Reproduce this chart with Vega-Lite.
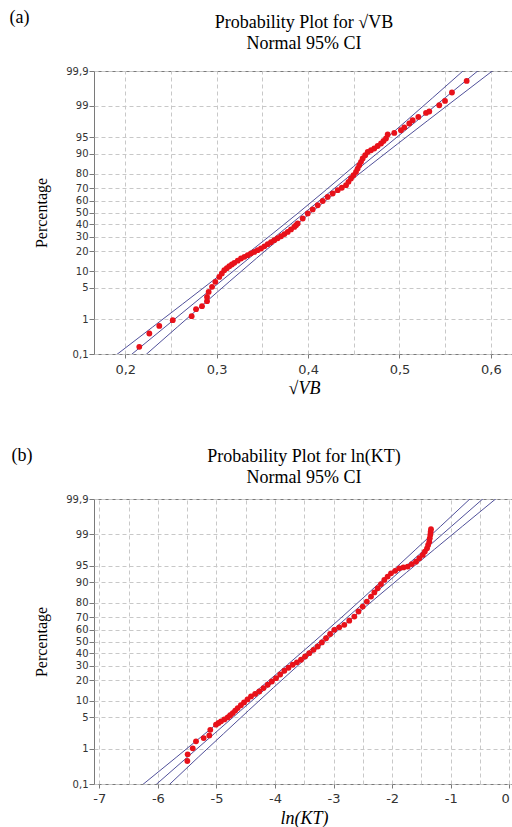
{
  "$schema": "https://vega.github.io/schema/vega-lite/v6.json",
  "padding": {"left": 8, "top": 7, "right": 0, "bottom": 0},
  "spacing": 47,
  "config": {
    "view": {"stroke": "#7a7a7a", "strokeWidth": 1},
    "axis": {"domain": false, "tickColor": "#7a7a7a", "labelColor": "#333333", "labelFont": "DejaVu Sans", "gridColor": "#c8c8c8", "gridDash": [4, 3], "gridWidth": 1, "titleFont": "Liberation Serif", "titleFontWeight": "normal", "titleColor": "#000000"}
  },
  "datasets": {
    "ciA": [
      {"line": "lo", "z": -3.1, "v": 0.1908}, {"line": "lo", "z": -2.5, "v": 0.2300}, {"line": "lo", "z": -2, "v": 0.2626}, {"line": "lo", "z": -1.5, "v": 0.2950}, {"line": "lo", "z": -1, "v": 0.3271}, {"line": "lo", "z": -0.5, "v": 0.3588}, {"line": "lo", "z": 0, "v": 0.3898}, {"line": "lo", "z": 0.5, "v": 0.4200}, {"line": "lo", "z": 1, "v": 0.4495}, {"line": "lo", "z": 1.5, "v": 0.4786}, {"line": "lo", "z": 2, "v": 0.5074}, {"line": "lo", "z": 2.5, "v": 0.5360}, {"line": "lo", "z": 3.1, "v": 0.5700},
      {"line": "fit", "z": -3.1, "v": 0.2068}, {"line": "fit", "z": -2.5, "v": 0.2435}, {"line": "fit", "z": -2, "v": 0.2741}, {"line": "fit", "z": -1.5, "v": 0.3047}, {"line": "fit", "z": -1, "v": 0.3353}, {"line": "fit", "z": -0.5, "v": 0.3659}, {"line": "fit", "z": 0, "v": 0.3965}, {"line": "fit", "z": 0.5, "v": 0.4271}, {"line": "fit", "z": 1, "v": 0.4577}, {"line": "fit", "z": 1.5, "v": 0.4883}, {"line": "fit", "z": 2, "v": 0.5189}, {"line": "fit", "z": 2.5, "v": 0.5495}, {"line": "fit", "z": 3.1, "v": 0.5862},
      {"line": "hi", "z": -3.1, "v": 0.2228}, {"line": "hi", "z": -2.5, "v": 0.2570}, {"line": "hi", "z": -2, "v": 0.2856}, {"line": "hi", "z": -1.5, "v": 0.3144}, {"line": "hi", "z": -1, "v": 0.3435}, {"line": "hi", "z": -0.5, "v": 0.3730}, {"line": "hi", "z": 0, "v": 0.4032}, {"line": "hi", "z": 0.5, "v": 0.4342}, {"line": "hi", "z": 1, "v": 0.4659}, {"line": "hi", "z": 1.5, "v": 0.4980}, {"line": "hi", "z": 2, "v": 0.5304}, {"line": "hi", "z": 2.5, "v": 0.5630}, {"line": "hi", "z": 3.1, "v": 0.6022}
    ],
    "ptsA": [
      {"v": 0.2153, "z": -2.934}, {"v": 0.2263, "z": -2.642}, {"v": 0.2372, "z": -2.476}, {"v": 0.2519, "z": -2.352}, {"v": 0.2726, "z": -2.264}, {"v": 0.2774, "z": -2.111}, {"v": 0.2839, "z": -2.046}, {"v": 0.2894, "z": -1.937}, {"v": 0.2894, "z": -1.843}, {"v": 0.2912, "z": -1.734}, {"v": 0.2949, "z": -1.624}, {"v": 0.2985, "z": -1.515}, {"v": 0.3028, "z": -1.406}, {"v": 0.3056, "z": -1.333}, {"v": 0.3083, "z": -1.260}, {"v": 0.3111, "z": -1.216}, {"v": 0.3138, "z": -1.172}, {"v": 0.3166, "z": -1.136}, {"v": 0.3193, "z": -1.100}, {"v": 0.3230, "z": -1.052}, {"v": 0.3266, "z": -1.004}, {"v": 0.3303, "z": -0.968}, {"v": 0.3339, "z": -0.932}, {"v": 0.3375, "z": -0.896}, {"v": 0.3411, "z": -0.860}, {"v": 0.3448, "z": -0.823}, {"v": 0.3485, "z": -0.786}, {"v": 0.3522, "z": -0.739}, {"v": 0.3558, "z": -0.692}, {"v": 0.3594, "z": -0.649}, {"v": 0.3630, "z": -0.605}, {"v": 0.3667, "z": -0.562}, {"v": 0.3704, "z": -0.518}, {"v": 0.3741, "z": -0.471}, {"v": 0.3777, "z": -0.424}, {"v": 0.3813, "z": -0.369}, {"v": 0.3849, "z": -0.314}, {"v": 0.3868, "z": -0.277}, {"v": 0.3886, "z": -0.240}, {"v": 0.3941, "z": -0.131}, {"v": 0.3996, "z": -0.022}, {"v": 0.4050, "z": 0.068}, {"v": 0.4105, "z": 0.159}, {"v": 0.4160, "z": 0.251}, {"v": 0.4214, "z": 0.341}, {"v": 0.4269, "z": 0.415}, {"v": 0.4324, "z": 0.487}, {"v": 0.4369, "z": 0.541}, {"v": 0.4415, "z": 0.596}, {"v": 0.4442, "z": 0.669}, {"v": 0.4469, "z": 0.742}, {"v": 0.4497, "z": 0.814}, {"v": 0.4524, "z": 0.886}, {"v": 0.4542, "z": 0.960}, {"v": 0.4560, "z": 1.033}, {"v": 0.4579, "z": 1.106}, {"v": 0.4597, "z": 1.179}, {"v": 0.4625, "z": 1.251}, {"v": 0.4652, "z": 1.323}, {"v": 0.4688, "z": 1.360}, {"v": 0.4724, "z": 1.397}, {"v": 0.4761, "z": 1.452}, {"v": 0.4798, "z": 1.507}, {"v": 0.4825, "z": 1.562}, {"v": 0.4852, "z": 1.616}, {"v": 0.4871, "z": 1.703}, {"v": 0.4943, "z": 1.738}, {"v": 0.5016, "z": 1.797}, {"v": 0.5053, "z": 1.856}, {"v": 0.5107, "z": 1.943}, {"v": 0.5144, "z": 2.015}, {"v": 0.5206, "z": 2.087}, {"v": 0.5290, "z": 2.175}, {"v": 0.5326, "z": 2.205}, {"v": 0.5435, "z": 2.343}, {"v": 0.5498, "z": 2.437}, {"v": 0.5574, "z": 2.620}, {"v": 0.5735, "z": 2.873}
    ],
    "ciB": [
      {"line": "lo", "z": -3.1, "v": -6.256}, {"line": "lo", "z": -2.5, "v": -5.675}, {"line": "lo", "z": -2, "v": -5.197}, {"line": "lo", "z": -1.5, "v": -4.722}, {"line": "lo", "z": -1, "v": -4.250}, {"line": "lo", "z": -0.5, "v": -3.784}, {"line": "lo", "z": 0, "v": -3.329}, {"line": "lo", "z": 0.5, "v": -2.884}, {"line": "lo", "z": 1, "v": -2.448}, {"line": "lo", "z": 1.5, "v": -2.020}, {"line": "lo", "z": 2, "v": -1.595}, {"line": "lo", "z": 2.5, "v": -1.171}, {"line": "lo", "z": 3.1, "v": -0.665},
      {"line": "fit", "z": -3.1, "v": -6.029}, {"line": "fit", "z": -2.5, "v": -5.489}, {"line": "fit", "z": -2, "v": -5.038}, {"line": "fit", "z": -1.5, "v": -4.588}, {"line": "fit", "z": -1, "v": -4.138}, {"line": "fit", "z": -0.5, "v": -3.687}, {"line": "fit", "z": 0, "v": -3.237}, {"line": "fit", "z": 0.5, "v": -2.787}, {"line": "fit", "z": 1, "v": -2.336}, {"line": "fit", "z": 1.5, "v": -1.886}, {"line": "fit", "z": 2, "v": -1.436}, {"line": "fit", "z": 2.5, "v": -0.985}, {"line": "fit", "z": 3.1, "v": -0.445},
      {"line": "hi", "z": -3.1, "v": -5.802}, {"line": "hi", "z": -2.5, "v": -5.303}, {"line": "hi", "z": -2, "v": -4.879}, {"line": "hi", "z": -1.5, "v": -4.455}, {"line": "hi", "z": -1, "v": -4.026}, {"line": "hi", "z": -0.5, "v": -3.590}, {"line": "hi", "z": 0, "v": -3.145}, {"line": "hi", "z": 0.5, "v": -2.690}, {"line": "hi", "z": 1, "v": -2.224}, {"line": "hi", "z": 1.5, "v": -1.753}, {"line": "hi", "z": 2, "v": -1.277}, {"line": "hi", "z": 2.5, "v": -0.799}, {"line": "hi", "z": 3.1, "v": -0.225}
    ],
    "ptsB": [
      {"v": -5.497, "z": -2.592}, {"v": -5.491, "z": -2.447}, {"v": -5.405, "z": -2.317}, {"v": -5.349, "z": -2.165}, {"v": -5.218, "z": -2.094}, {"v": -5.122, "z": -2.036}, {"v": -5.105, "z": -1.916}, {"v": -5.008, "z": -1.804}, {"v": -4.965, "z": -1.768}, {"v": -4.922, "z": -1.732}, {"v": -4.865, "z": -1.689}, {"v": -4.808, "z": -1.646}, {"v": -4.765, "z": -1.600}, {"v": -4.722, "z": -1.553}, {"v": -4.680, "z": -1.499}, {"v": -4.637, "z": -1.444}, {"v": -4.583, "z": -1.383}, {"v": -4.529, "z": -1.321}, {"v": -4.470, "z": -1.256}, {"v": -4.410, "z": -1.191}, {"v": -4.339, "z": -1.137}, {"v": -4.268, "z": -1.083}, {"v": -4.197, "z": -1.011}, {"v": -4.125, "z": -0.938}, {"v": -4.054, "z": -0.867}, {"v": -3.983, "z": -0.795}, {"v": -3.912, "z": -0.715}, {"v": -3.841, "z": -0.634}, {"v": -3.770, "z": -0.570}, {"v": -3.698, "z": -0.505}, {"v": -3.627, "z": -0.451}, {"v": -3.556, "z": -0.396}, {"v": -3.486, "z": -0.325}, {"v": -3.415, "z": -0.253}, {"v": -3.343, "z": -0.181}, {"v": -3.271, "z": -0.108}, {"v": -3.200, "z": -0.019}, {"v": -3.129, "z": 0.071}, {"v": -3.059, "z": 0.162}, {"v": -2.988, "z": 0.253}, {"v": -2.903, "z": 0.308}, {"v": -2.817, "z": 0.362}, {"v": -2.732, "z": 0.452}, {"v": -2.646, "z": 0.541}, {"v": -2.575, "z": 0.650}, {"v": -2.503, "z": 0.758}, {"v": -2.432, "z": 0.866}, {"v": -2.361, "z": 0.974}, {"v": -2.304, "z": 1.064}, {"v": -2.247, "z": 1.154}, {"v": -2.191, "z": 1.245}, {"v": -2.134, "z": 1.336}, {"v": -2.077, "z": 1.408}, {"v": -2.020, "z": 1.479}, {"v": -1.949, "z": 1.533}, {"v": -1.878, "z": 1.587}, {"v": -1.807, "z": 1.606}, {"v": -1.735, "z": 1.624}, {"v": -1.664, "z": 1.678}, {"v": -1.593, "z": 1.732}, {"v": -1.536, "z": 1.805}, {"v": -1.478, "z": 1.877}, {"v": -1.442, "z": 1.949}, {"v": -1.405, "z": 2.020}, {"v": -1.386, "z": 2.093}, {"v": -1.366, "z": 2.165}, {"v": -1.358, "z": 2.238}, {"v": -1.349, "z": 2.311}, {"v": -1.343, "z": 2.374}, {"v": -1.337, "z": 2.436}
    ]
  },
  "vconcat": [
    {
      "width": 420,
      "height": 283,
      "title": {"text": "Probability Plot for √VB", "subtitle": "Normal 95% CI", "font": "Liberation Serif", "fontSize": 18, "fontWeight": "normal", "color": "#000000", "subtitleFont": "Liberation Serif", "subtitleFontSize": 18, "subtitleColor": "#000000", "subtitlePadding": 3, "anchor": "middle", "frame": "group", "offset": -45},
      "resolve": {"axis": {"x": "independent", "y": "independent"}},
      "layer": [
        {
          "data": {"name": "ciA"},
          "mark": {"type": "line", "color": "#50509a", "strokeWidth": 1, "clip": true},
          "encoding": {
            "x": {"field": "v", "type": "quantitative", "scale": {"domain": [0.16576, 0.62528], "nice": false, "zero": false},
              "axis": {"orient": "bottom", "values": [0.2, 0.3, 0.4, 0.5, 0.6], "grid": false, "tickSize": 4, "labelFontSize": 13, "labelPadding": 5, "labelExpr": "replace(format(datum.value, '.1f'), '.', ',')", "title": "√VB", "titleFontSize": 18, "titleFontStyle": "italic", "titlePadding": 3}},
            "y": {"field": "z", "type": "quantitative", "scale": {"domain": [-3.0902, 3.0902], "nice": false, "zero": false},
              "axis": {"values": [-3.0902, -2.3263, -1.6449, -1.2816, -0.8416, -0.5244, -0.2533, 0, 0.2533, 0.5244, 0.8416, 1.2816, 1.6449, 2.3263, 3.0902], "labelExpr": "replace(toString(round(cumulativeNormal(datum.value) * 1000) / 10), '.', ',')", "grid": true, "tickSize": 5, "labelPadding": 1, "labelFontSize": 10, "title": "Percentage", "titleFontSize": 16, "titlePadding": 16}},
            "detail": {"field": "line"},
            "order": {"field": "z", "type": "quantitative"}
          }
        },
        {
          "data": {"name": "ptsA"},
          "mark": {"type": "circle", "color": "#e8111a", "opacity": 1, "size": 34},
          "encoding": {
            "x": {"field": "v", "type": "quantitative",
              "axis": {"orient": "top", "values": [0.2, 0.25, 0.3, 0.35, 0.4, 0.45, 0.5, 0.55, 0.6], "grid": true, "labels": false, "ticks": false, "title": "(a)", "titleFontSize": 18, "titleAngle": 0, "titleAlign": "left", "titleBaseline": "middle", "titleX": -85, "titleY": -54}},
            "y": {"field": "z", "type": "quantitative", "axis": null}
          }
        }
      ]
    },
    {
      "width": 420,
      "height": 285,
      "title": {"text": "Probability Plot for ln(KT)", "subtitle": "Normal 95% CI", "font": "Liberation Serif", "fontSize": 18, "fontWeight": "normal", "color": "#000000", "subtitleFont": "Liberation Serif", "subtitleFontSize": 18, "subtitleColor": "#000000", "subtitlePadding": 3, "anchor": "middle", "frame": "group", "offset": -41},
      "resolve": {"axis": {"x": "independent", "y": "independent"}},
      "layer": [
        {
          "data": {"name": "ciB"},
          "mark": {"type": "line", "color": "#50509a", "strokeWidth": 1, "clip": true},
          "encoding": {
            "x": {"field": "v", "type": "quantitative", "scale": {"domain": [-7.0905, 0.0804], "nice": false, "zero": false},
              "axis": {"orient": "bottom", "values": [-7, -6, -5, -4, -3, -2, -1, 0], "grid": false, "tickSize": 4, "labelFontSize": 13, "labelPadding": 4, "labelFlush": 5, "labelExpr": "toString(datum.value)", "title": "ln(KT)", "titleFontSize": 18, "titleFontStyle": "italic", "titlePadding": 4}},
            "y": {"field": "z", "type": "quantitative", "scale": {"domain": [-3.0902, 3.0902], "nice": false, "zero": false},
              "axis": {"values": [-3.0902, -2.3263, -1.6449, -1.2816, -0.8416, -0.5244, -0.2533, 0, 0.2533, 0.5244, 0.8416, 1.2816, 1.6449, 2.3263, 3.0902], "labelExpr": "replace(toString(round(cumulativeNormal(datum.value) * 1000) / 10), '.', ',')", "grid": true, "tickSize": 5, "labelPadding": 1, "labelFontSize": 10, "title": "Percentage", "titleFontSize": 16, "titlePadding": 16}},
            "detail": {"field": "line"},
            "order": {"field": "z", "type": "quantitative"}
          }
        },
        {
          "data": {"name": "ptsB"},
          "mark": {"type": "circle", "color": "#e8111a", "opacity": 1, "size": 34},
          "encoding": {
            "x": {"field": "v", "type": "quantitative",
              "axis": {"orient": "top", "values": [-7, -6.5, -6, -5.5, -5, -4.5, -4, -3.5, -3, -2.5, -2, -1.5, -1, -0.5, 0], "grid": true, "labels": false, "ticks": false, "title": "(b)", "titleFontSize": 18, "titleAngle": 0, "titleAlign": "left", "titleBaseline": "middle", "titleX": -83, "titleY": -44}},
            "y": {"field": "z", "type": "quantitative", "axis": null}
          }
        }
      ]
    }
  ]
}
